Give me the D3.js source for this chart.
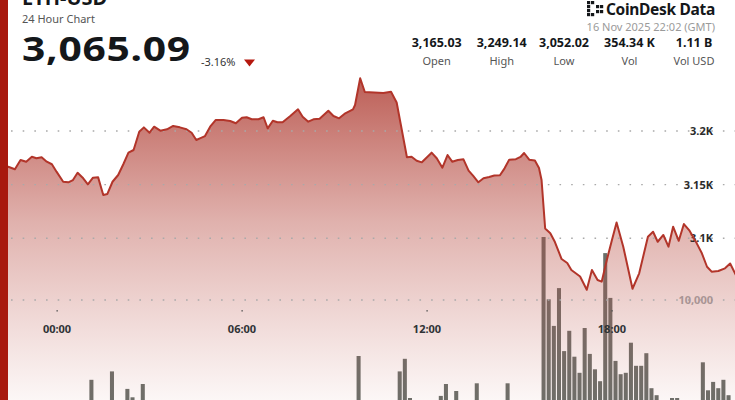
<!DOCTYPE html>
<html><head><meta charset="utf-8">
<script src="https://cdn.jsdelivr.net/npm/d3@7"></script>
<style>html,body{margin:0;padding:0;background:#fff;overflow:hidden}svg{display:block;font-family:"Noto Sans",sans-serif}</style>
</head><body><svg id="c" width="735" height="400"></svg>
<script>
// ---- data ----
const pair = "ETH-USD";
const subtitle = "24 Hour Chart";
const lastPrice = "3,065.09";
const changePct = "-3.16%";
const stampText = "16 Nov 2025 22:02 (GMT)";
const statValues = ["3,165.03", "3,249.14", "3,052.02", "354.34 K", "1.11 B"];
const statLabels = ["Open", "High", "Low", "Vol", "Vol USD"];
const startTime = "2025-11-15T22:02:00Z";
const endTime = "2025-11-16T22:02:00Z";
// minutes relative to 2025-11-16 00:00 GMT
const priceMinutes = [-118,-95,-82,-71,-60,-49,-40,-30,-20,-10,
 -1,12,22,31,40,51,60,70,80,90,
 98,108,119,129,139,149,160,169,180,189,
 201,214,226,239,252,262,271,278,288,298,
 309,324,337,348,360,369,379,392,402,410,
 420,429,439,454,469,478,489,499,511,528,
 538,549,561,576,580,590,599,635,650,661,
 681,690,700,710,720,729,739,750,760,769,
 780,791,801,810,820,830,841,851,862,871,
 880,893,902,909,919,930,938,943,950,960,
 969,982,993,1001,1018,1031,1041,1052,1060,1070,
 1080,1089,1102,1120,1133,1150,1160,1169,1180,1190,
 1199,1210,1220,1231,1245,1255,1265,1274,1287,1300,
 1310,1322];
const priceValues = [3165.03,3166.7,3164.3,3173.0,3171.4,3176.0,3174.6,3175.5,3171.4,3169.0,
 3162.1,3152.7,3152.2,3154.3,3161.1,3155.9,3150.3,3156.5,3156.8,3140.4,
 3141.3,3152.7,3159.0,3169.0,3179.8,3182.3,3199.3,3203.4,3198.4,3204.0,
 3200.3,3201.6,3204.7,3203.4,3201.6,3198.4,3191.6,3193.2,3195.3,3204.0,
 3210.3,3210.3,3209.3,3207.2,3212.4,3212.8,3210.9,3210.9,3212.8,3202.5,
 3209.6,3208.1,3208.1,3214.0,3220.2,3213.3,3208.7,3210.9,3211.5,3218.9,
 3214.0,3211.8,3216.5,3220.2,3224.2,3249.14,3236.3,3235.4,3236.6,3226.6,
 3175.5,3176.0,3172.3,3170.8,3175.5,3179.8,3174.6,3165.8,3177.6,3171.4,
 3173.0,3173.6,3163.0,3158.1,3152.2,3155.9,3157.1,3158.5,3158.7,3165.2,
 3173.3,3173.7,3175.8,3179.5,3173.3,3172.5,3165.5,3154.3,3109.1,3104.7,
 3096.5,3080.7,3077.0,3070.5,3064.4,3052.02,3070.5,3061.1,3059.6,3079.8,
 3098.4,3114.7,3092.2,3053.0,3067.4,3101.5,3106.1,3096.8,3103.1,3092.2,
 3110.8,3097.7,3113.3,3107.1,3095.3,3086.0,3073.5,3068.9,3069.5,3072.0,
 3076.5,3065.09];
// 10-minute volume buckets starting 22:02
const volumeValues = [1800,1500,1200,1400,1100,1300,900,1000,1200,1100,1500,1300,
 1000,1400,1600,2000,2200,2400,4300,1900,2300,2100,4900,2500,
 2300,3650,3050,2400,4000,2000,1700,1500,1300,1200,1400,1100,
 1000,1300,1500,1200,1100,900,1000,1200,1400,1300,1100,1000,
 1200,1500,1700,1400,1200,1100,1300,1600,1500,1200,1000,900,
 1100,1300,1200,1400,1600,1800,1500,1300,1700,2000,6000,2600,
 1800,1500,1400,1300,1700,2200,4900,5800,3000,2200,1800,1600,
 2000,2400,3150,4000,2500,3500,2300,2100,2600,4050,2200,1900,
 2000,2400,2600,4050,2500,2200,2000,2300,2700,2800,14500,10050,
 8150,10850,6350,7800,5950,4800,8000,6150,5050,4200,13350,10150,
 5650,4700,4800,6950,5300,5300,6200,3700,3200,2700,2600,3000,
 3000,2500,2300,2400,2700,5550,3550,4150,3700,4300,3200,2600];
const priceTicks = [3100, 3150, 3200];
const priceTickLabels = ["3.1K", "3.15K", "3.2K"];
const volumeTicks = [10000];
const volumeTickLabels = ["10,000"];

// ---- drawing ----
const W = 735, H = 400;
const svg = d3.select("#c");
const t0 = new Date(startTime), t1 = new Date(endTime);
const day0 = new Date("2025-11-16T00:00:00Z");
const x = d3.scaleUtc().domain([t0, t1]).range([-3.6, 736.3]);
const y = d3.scaleLinear().domain([3100, 3200]).range([238.3, 131]);
const yv = d3.scaleLinear().domain([0, 10000]).range([440, 300]);

const pts = priceMinutes.map((m, i) => ({t: new Date(+day0 + m * 60000), p: priceValues[i]}));
const bars = volumeValues.map((v, i) => ({t: new Date(+t0 + i * 600000), t2: new Date(+t0 + (i + 1) * 600000), v}));

const defs = svg.append("defs");
const g = defs.append("linearGradient").attr("id", "af").attr("gradientUnits", "userSpaceOnUse")
  .attr("x1", 0).attr("x2", 0).attr("y1", 77).attr("y2", 400);
g.append("stop").attr("offset", 0).attr("stop-color", "#ad3a30").attr("stop-opacity", 0.82);
g.append("stop").attr("offset", 0.45).attr("stop-color", "#b5463c").attr("stop-opacity", 0.42);
g.append("stop").attr("offset", 1).attr("stop-color", "#c05a50").attr("stop-opacity", 0.05);

// volume bars
svg.append("g").selectAll("rect").data(bars).join("rect")
  .attr("x", d => x(d.t) + 0.5)
  .attr("width", d => x(d.t2) - x(d.t) - 1.1)
  .attr("y", d => yv(d.v))
  .attr("height", d => Math.max(0, yv(0) - yv(d.v)))
  .attr("fill", "#6a6f6a");

// area
const area = d3.area().x(d => x(d.t)).y0(H).y1(d => y(d.p));
svg.append("path").datum(pts).attr("d", area).attr("fill", "url(#af)");

// grid lines
const gridYs = priceTicks.map(v => y(v)).concat(volumeTicks.map(v => yv(v)));
svg.append("g").selectAll("line").data(gridYs).join("line")
  .attr("x1", 11).attr("x2", W).attr("y1", d => d).attr("y2", d => d)
  .attr("stroke", "#a9a9a9").attr("stroke-width", 1.4).attr("stroke-dasharray", "1.6 10.07");

// y labels
svg.append("g").selectAll("text").data(priceTicks).join("text")
  .attr("x", 713).attr("y", d => y(d) + 4).attr("text-anchor", "end")
  .attr("font-size", 11).attr("font-weight", 700).attr("fill", "#2b2b2b")
  .text((d, i) => priceTickLabels[i]);
svg.append("g").selectAll("text").data(volumeTicks).join("text")
  .attr("x", 713).attr("y", d => yv(d) + 4).attr("text-anchor", "end")
  .attr("font-size", 11).attr("font-weight", 700).attr("fill", "#a89494")
  .text((d, i) => volumeTickLabels[i]);

// x ticks
const xt = d3.utcHour.every(6).range(t0, t1);
const fmt = d3.utcFormat("%H:%M");
const xa = svg.append("g");
xa.selectAll("rect").data(xt).join("rect")
  .attr("x", d => x(d) - 0.5).attr("y", 310).attr("width", 1.2).attr("height", 1.6).attr("fill", "#555");
xa.selectAll("text").data(xt).join("text")
  .attr("x", d => x(d)).attr("y", 332.5).attr("text-anchor", "middle")
  .attr("font-size", 11).attr("font-weight", 700).attr("fill", "#2f3336")
  .text(d => fmt(d));

// price line
const line = d3.line().x(d => x(d.t)).y(d => y(d.p));
svg.append("path").datum(pts).attr("d", line).attr("fill", "none")
  .attr("stroke", "#b2352a").attr("stroke-width", 2).attr("stroke-linejoin", "round");

// left accent strip
svg.append("rect").attr("x", 0).attr("y", 0).attr("width", 8).attr("height", H).attr("fill", "#a8190e");

// header
svg.append("text").attr("x", 22).attr("y", 4.5).attr("font-size", 20).attr("font-weight", 700).attr("fill", "#14171a").text(pair);
svg.append("text").attr("x", 22).attr("y", 23).attr("font-size", 11).attr("fill", "#555").text(subtitle);
svg.append("text").attr("transform", "translate(22,61) scale(1.2,1)").attr("font-size", 34).attr("font-weight", 700)
  .attr("fill", "#14171a").attr("letter-spacing", 0.6).text(lastPrice);
svg.append("text").attr("x", 201).attr("y", 66).attr("font-size", 11).attr("fill", "#333").text(changePct);
svg.append("path").attr("d", "M244,59.5 L255,59.5 L249.5,66.5 Z").attr("fill", "#b5180f");

// logo
const logo = svg.append("g").attr("fill", "#14171a");
[[587,1],[587,5],[587,9],[587,13],[591,13],[591,1],[596,5],[596,10],[600,5],[600,10]].forEach(([a,b]) =>
  logo.append("rect").attr("x", a).attr("y", b).attr("width", 3.2).attr("height", 3.2));
svg.append("text").attr("x", 715).attr("y", 14.5).attr("text-anchor", "end").attr("font-size", 15.5).attr("font-weight", 700)
  .attr("fill", "#14171a").attr("letter-spacing", -0.3).text("CoinDesk Data");
svg.append("text").attr("x", 715).attr("y", 31).attr("text-anchor", "end").attr("font-size", 11).attr("fill", "#9a9a9a").text(stampText);

const statX = [436.7, 501.7, 564, 629.5, 694];
svg.append("g").selectAll("text").data(statValues).join("text")
  .attr("x", (d, i) => statX[i]).attr("y", 47).attr("text-anchor", "middle")
  .attr("font-size", 12.5).attr("font-weight", 700).attr("fill", "#14171a").text(d => d);
svg.append("g").selectAll("text").data(statLabels).join("text")
  .attr("x", (d, i) => statX[i]).attr("y", 64.5).attr("text-anchor", "middle")
  .attr("font-size", 11).attr("fill", "#555").text(d => d);
</script></body></html>
